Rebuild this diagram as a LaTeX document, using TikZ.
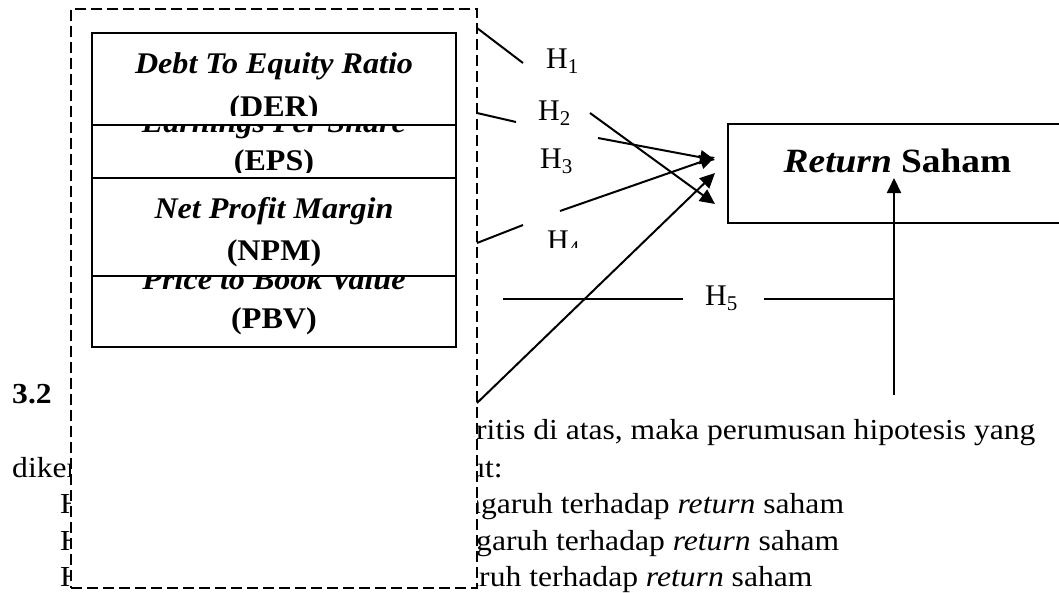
\documentclass[tikz,border=0pt]{standalone}
\usepackage{fontspec}
\setmainfont{Liberation Serif}[FakeStretch=1.09]
\newfontfamily\boxfont{Liberation Serif}[FakeStretch=1.07]
\newfontfamily\retfont{Liberation Serif}[FakeStretch=1.1]
\newfontfamily\hfont{Liberation Serif}
\usetikzlibrary{arrows.meta}
\begin{document}
\begin{tikzpicture}[x=1pt,y=-1pt,
 bodytxt/.style={inner sep=0pt,anchor=base west,font=\fontsize{29}{29}\selectfont},
 boxlbl/.style={inner sep=0pt,anchor=base,font=\boxfont\fontsize{30}{30}\selectfont\bfseries\itshape},
 boxlblr/.style={inner sep=0pt,anchor=base,font=\boxfont\fontsize{30}{30}\selectfont\bfseries},
 hlbl/.style={inner sep=0pt,anchor=base west,font=\hfont\fontsize{30}{30}\selectfont},
 varbox/.style={draw,line width=1.5pt,minimum width=364pt,inner sep=0pt},
 outerbox/.style={draw,fill=white,line width=1.5pt,dash pattern=on 11pt off 5pt,inner sep=0pt},
 conn/.style={line width=2pt},
 arr/.style={line width=2pt,-{Triangle[length=15pt,width=14pt]}},
]
\clip (0,0) rectangle (1059,592);
\fill[white] (0,0) rectangle (1059,592);

% body text (partly hidden by the dashed box)
\node[bodytxt,font=\fontsize{29}{29}\selectfont\bfseries] (sec) at (12,403) {3.2};
\node[bodytxt] (l1) at (476,439) {ritis di atas, maka perumusan hipotesis yang};
\node[bodytxt] (l2a) at (12,477) {dikemukakan};
\node[bodytxt] (l2b) at (469,477) {ut:};
\node[bodytxt] (l3a) at (60,513) {H};
\node[bodytxt] (l3b) at (465,513) {ngaruh terhadap \textit{return} saham};
\node[bodytxt] (l4a) at (60,550) {H};
\node[bodytxt] (l4b) at (476,550) {garuh terhadap \textit{return} saham};
\node[bodytxt] (l5a) at (60,586) {H};
\node[bodytxt] (l5b) at (465,586) {aruh terhadap \textit{return} saham};

% dashed outer box
\node[outerbox,minimum width=406pt,minimum height=579pt] (outer) at (274,298.5) {};

% variable boxes with clipped labels
\begin{scope}
\clip (92,33) rectangle (456,115);
\node[boxlbl] (derA) at (274,73) {Debt To Equity Ratio};
\node[boxlblr] (derB) at (274,116) {(DER)};
\end{scope}
\begin{scope}
\clip (92,125) rectangle (456,172);
\node[boxlbl] (epsA) at (274,132) {Earnings Per Share};
\node[boxlblr] (epsB) at (274,170) {(EPS)};
\end{scope}
\begin{scope}
\clip (92,178) rectangle (456,276);
\node[boxlbl] (npmA) at (274,218) {Net Profit Margin};
\node[boxlblr] (npmB) at (274,260) {(NPM)};
\end{scope}
\begin{scope}
\clip (92,276) rectangle (456,347);
\node[boxlbl] (pbvA) at (274,289) {Price to Book Value};
\node[boxlblr] (pbvB) at (274,328) {(PBV)};
\end{scope}
\node[varbox,minimum height=92pt] (der) at (274,79) {};
\node[varbox,minimum height=53pt] (eps) at (274,151.5) {};
\node[varbox,minimum height=98pt] (npm) at (274,227) {};
\node[varbox,minimum height=71pt] (pbv) at (274,311.5) {};

% dependent variable
\node[draw,line width=1.5pt,minimum width=342pt,minimum height=99pt,inner sep=0pt] (ret) at (899,173.5) {};
\node[inner sep=0pt,anchor=base,font=\retfont\fontsize{34}{34}\selectfont\bfseries] (rett) at (897.5,172) {\textit{Return} Saham};

% hypothesis labels
\node[hlbl] (h1) at (546,68) {H\textsubscript{1}};
\node[hlbl] (h2) at (538,120) {H\textsubscript{2}};
\node[hlbl] (h3) at (540,168) {H\textsubscript{3}};
\begin{scope}
\clip (0,0) rectangle (1059,247);
\node[hlbl] (h4) at (547,250) {H\textsubscript{4}};
\end{scope}
\node[hlbl] (h5) at (705,305) {H\textsubscript{5}};

% connector end points
\coordinate (a1) at (477,28);   \coordinate (b1) at (523,63);
\coordinate (a2) at (477,113);  \coordinate (b2) at (516,122);
\coordinate (c2) at (590,113);  \coordinate (t2) at (715,204);
\coordinate (c3) at (598,138);  \coordinate (t3) at (715,160);
\coordinate (a4) at (477,243);  \coordinate (b4) at (523,225);
\coordinate (c4) at (560,211);  \coordinate (t4) at (715,157);
\coordinate (a6) at (477,403);  \coordinate (t6) at (715,173);
\coordinate (a5) at (503,299);  \coordinate (b5) at (683,299);
\coordinate (c5) at (764,299);  \coordinate (j5) at (894,299);
\coordinate (vb) at (894,395);  \coordinate (vt) at (894,178);

\draw[conn] (a1) -- (b1);
\draw[conn] (a2) -- (b2);
\draw[arr] (c2) -- (t2);
\draw[arr] (c3) -- (t3);
\draw[conn] (a4) -- (b4);
\draw[arr] (c4) -- (t4);
\draw[arr] (a6) -- (t6);
\draw[conn] (a5) -- (b5);
\draw[conn] (c5) -- (j5);
\draw[arr] (vb) -- (vt);
\end{tikzpicture}
\end{document}
